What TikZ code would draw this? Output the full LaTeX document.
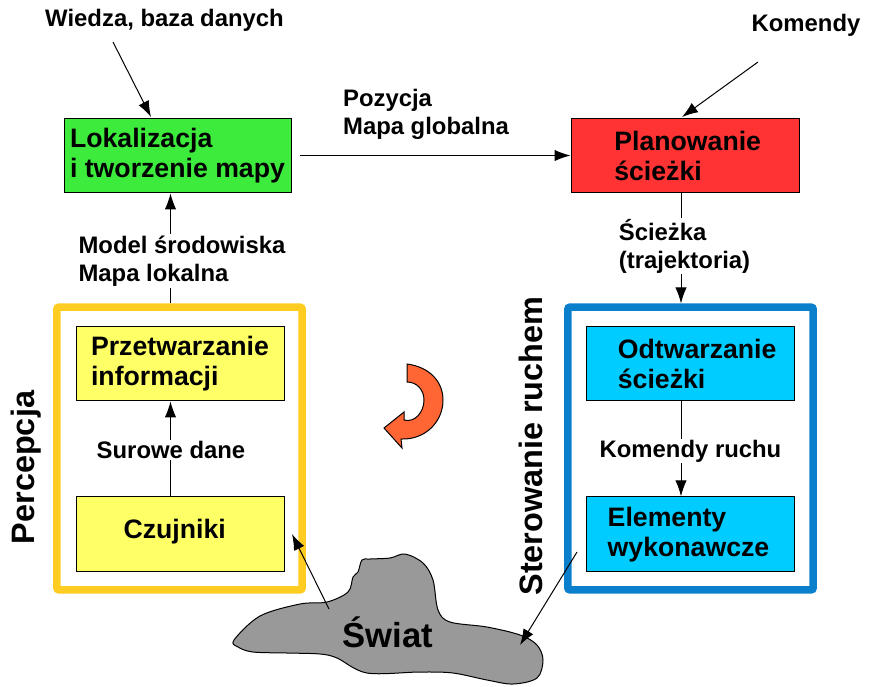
\documentclass[tikz,border=0pt]{standalone}
\usepackage{fontspec}
\setmainfont{Liberation Sans}
\usetikzlibrary{arrows.meta,positioning}
\definecolor{lokgreen}{HTML}{3DEB3D}
\definecolor{planred}{HTML}{FF3333}
\definecolor{percyellow}{HTML}{FFFF66}
\definecolor{percframe}{HTML}{FFCC22}
\definecolor{sterblue}{HTML}{00CCFF}
\definecolor{sterframe}{HTML}{0A7FCC}
\definecolor{loopred}{HTML}{FF6633}

\begin{document}
\begin{tikzpicture}[x=0.75pt,y=-0.75pt,
    box/.style={draw, line width=0.75pt, minimum width=156pt, minimum height=56pt, inner sep=0pt, align=left,
      font=\fontsize{20}{22.5}\selectfont\bfseries},
    frame/.style={draw, line width=5.6pt, rounded corners=1.5pt, minimum width=184pt, minimum height=212pt},
    lab/.style={fill=white, inner sep=1pt, align=left, font=\fontsize{17.9}{21}\selectfont\bfseries},
    title/.style={rotate=90, font=\fontsize{24.3}{28}\selectfont\bfseries},
    link/.style={line width=0.75pt, -{Latex[length=12pt,width=8.5pt]}}]
\useasboundingbox (0,0) rectangle (870,686);

% frames
\node[frame, draw=percframe] (ramkaL) at (179.5,448.5) {};
\node[frame, draw=sterframe] (ramkaR) at (690.5,448.5) {};

% boxes
\node[box, minimum width=170.25pt, fill=lokgreen] (lok) at (177.5,155.5) {Lokalizacja\\i tworzenie mapy};
\node[box, minimum width=171pt, fill=planred, right=209.25pt of lok] (plan) {\hspace*{4pt}Planowanie\\\hspace*{4pt}ścieżki};
\node[box, fill=percyellow] (przetw) at (180,363.5) {Przetwarzanie\\informacji};
\node[box, fill=percyellow, below=71.25pt of przetw] (czuj) {\raisebox{8pt}{Czujniki}\hspace*{8pt}};
\node[box, fill=sterblue] (odtw) at (690.5,363.5) {\hspace*{10pt}Odtwarzanie\\\hspace*{10pt}ścieżki};
\node[box, fill=sterblue, below=71.25pt of odtw] (elem) {Elementy\\wykonawcze\hspace*{3pt}};

% world
\draw[line width=0.75pt, fill=black!40] plot[smooth cycle, tension=0.55] coordinates {
  (234,640) (260,616) (300,604) (327,602) (348,592) (353,577) (358,572) (362,560)
  (370,559) (390,558) (405,554) (423,563) (433,580) (438,610) (450,622) (487,627)
  (520,635) (537,645) (543,660) (537,678) (513,684) (487,680) (453,673) (420,672)
  (367,673) (337,658) (320,654) (287,653) (253,652) (238,647)};
\node[font=\fontsize{26}{30}\selectfont\bfseries] (swiat) at (388,632) {Świat};

% loop sign
\draw[line width=0.75pt, fill=loopred] (407,364) .. controls (430,367) and (443,382) .. (443,400)
  .. controls (443,422) and (425,440) .. (401,439) -- (402,448) -- (384,428) -- (404,412) -- (404,420)
  .. controls (415,423) and (424,412) .. (424,400) .. controls (424,390) and (417,382) .. (407,382) -- cycle;

\coordinate (axisL) at (170.5,250);
\coordinate (axisR) at (681,250);
\coordinate (wiedzaEnd) at (113,42);
\coordinate (lokEnd) at (151,117);
\coordinate (komendyEnd) at (758,62);
\coordinate (planEnd) at (682,117);
\coordinate (swiatL) at (329,609);
\coordinate (czujEnd) at (292,534);
\coordinate (ramkaEnd) at (577,552);
\coordinate (swiatR) at (520,645);

% connectors
\draw[link] (ramkaL.north -| axisL) -- (lok.south -| axisL);
\draw[link, shorten <=6pt] (lok) -- (plan);
\draw[link] (plan.south -| axisR) -- (ramkaR.north -| axisR);
\draw[link] (czuj.north -| axisL) -- (przetw.south -| axisL);
\draw[link] (odtw.south -| axisR) -- (elem.north -| axisR);
\draw[link] (wiedzaEnd) -- (lokEnd);
\draw[link] (komendyEnd) -- (planEnd);
\draw[link] (swiatL) -- (czujEnd);
\draw[link] (ramkaEnd) -- (swiatR);

% labels
\node[lab] (wiedza) at (164.5,20) {Wiedza, baza danych};
\node[lab] (komendy) at (806,25) {Komendy};
\node[lab] (pozycja) at (426,114) {Pozycja\\Mapa globalna};
\node[lab] (model) at (182,261) {Model środowiska\\Mapa lokalna};
\node[lab] (sciezka) at (684.5,246) {Ścieżka\\(trajektoria)};
\node[lab] (surowe) at (171,450) {Surowe dane};
\node[lab] (ruch) at (690.5,451) {Komendy ruchu};
\node[title] (percepcja) at (26,467.5) {Percepcja};
\node[title] (sterowanie) at (531,446) {Sterowanie ruchem};
\end{tikzpicture}
\end{document}
